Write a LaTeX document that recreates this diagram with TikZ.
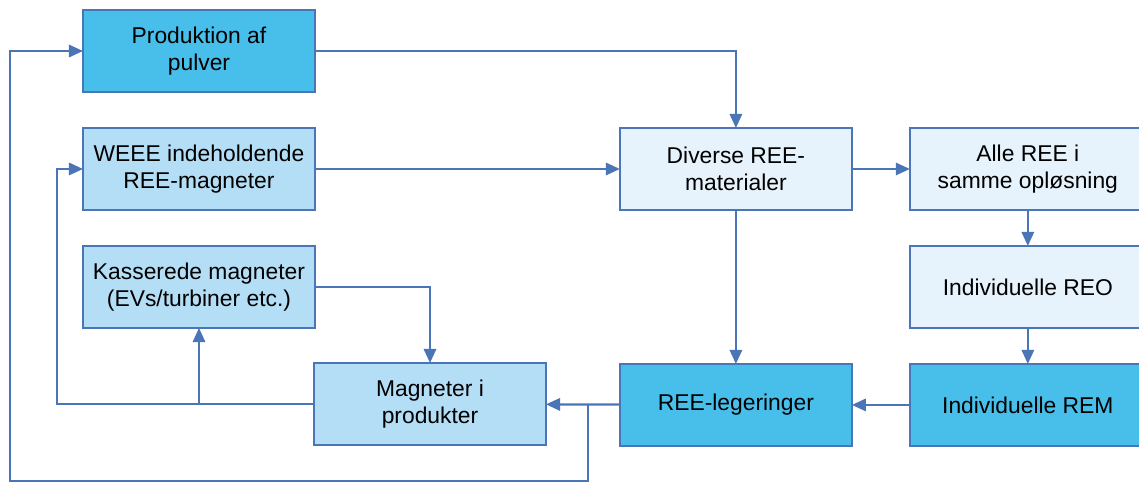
\documentclass[tikz,border=0pt]{standalone}
\usepackage{fontspec}
\setmainfont{Liberation Sans}
\usetikzlibrary{positioning, arrows.meta}
\definecolor{cDARK}{HTML}{47BFEA}
\definecolor{cMID}{HTML}{B4DEF5}
\definecolor{cPALE}{HTML}{E7F3FC}
\definecolor{cEDGE}{HTML}{4A76B8}
\tikzset{
  flowbox/.style={
    draw=cEDGE, line width=1pt,
    fill=#1,
    text=black,
    align=center,
    inner sep=2pt,
    outer sep=0pt,
    minimum width=4.64cm,
    minimum height=1.64cm,
    font=\fontsize{13}{15.5}\selectfont
  },
  widebox/.style={
    flowbox=#1,
    minimum width=4.72cm
  },
  link/.style={
    -{Triangle[length=8pt,width=7pt]},
    line width=1.3pt,
    draw=cEDGE
  }
}

\begin{document}
\begin{tikzpicture}[x=0.02cm, y=-0.02cm, node distance=0.72cm and 6.1cm]
  \useasboundingbox (0,0) rectangle (1139,484);

  \node[flowbox=cDARK] (prod) at (199,51) {Produktion af\\pulver};
  \node[flowbox=cMID, below=of prod] (weee) {WEEE indeholdende\\REE-magneter};
  \node[flowbox=cMID, below=of weee] (kass) {Kasserede magneter\\(EVs/turbiner etc.)};
  \node[flowbox=cMID] (mag) at (430,404) {Magneter i\\produkter};
  \node[flowbox=cPALE, right=of weee] (div) {Diverse REE-\\materialer};
  \node[widebox=cPALE, right=1.16cm of div] (alle) {Alle REE i\\samme opløsning};
  \node[widebox=cPALE, below=of alle] (reo) {Individuelle REO};
  \node[widebox=cDARK, below=of reo] (rem) {Individuelle REM};
  \node[flowbox=cDARK, left=1.16cm of rem] (leg) {REE-legeringer};

  \coordinate (split) at (588,404);
  \coordinate (bottom) at (10,481);
  \coordinate (leftloop) at (57,404);
  \coordinate (kassfoot) at (kass.south |- mag.west);

  \draw[link] (prod.east) -| (div.north);
  \draw[link] (weee) -- (div);
  \draw[link] (div) -- (alle);
  \draw[link] (div) -- (leg);
  \draw[link] (alle) -- (reo);
  \draw[link] (reo) -- (rem);
  \draw[link] (rem) -- (leg);
  \draw[link] (leg) -- (mag);
  \draw[link] (split) |- (bottom) |- (prod.west);
  \draw[link] (mag.west) -- (leftloop) |- (weee.west);
  \draw[link] (kassfoot) -- (kass.south);
  \draw[link] (kass.east) -| (mag.north);
\end{tikzpicture}
\end{document}
